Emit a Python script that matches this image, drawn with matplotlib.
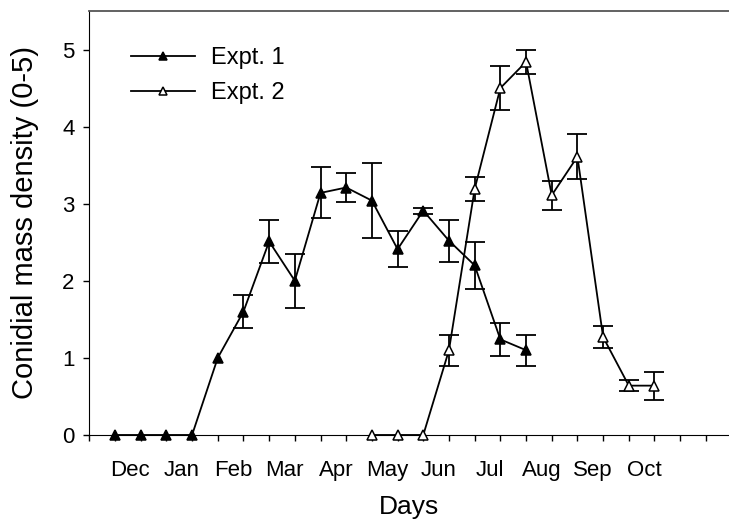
import numpy as np
import matplotlib.pyplot as plt

plt.rcParams['font.family'] = ['Liberation Sans', 'DejaVu Sans']

months = ["Dec", "Jan", "Feb", "Mar", "Apr", "May", "Jun", "Jul", "Aug", "Sep", "Oct"]

# sampling positions (half-month steps) and mean scores
x1 = np.arange(1, 18)
y1 = [0, 0, 0, 0, 1.0, 1.6, 2.51, 2.0, 3.14, 3.21, 3.04, 2.41, 2.91, 2.52, 2.2, 1.24, 1.1]
e1 = [0, 0, 0, 0, 0, 0.21, 0.28, 0.35, 0.33, 0.19, 0.49, 0.23, 0.04, 0.27, 0.3, 0.21, 0.2]

x2 = np.arange(11, 23)
y2 = [0, 0, 0, 1.1, 3.19, 4.5, 4.84, 3.11, 3.61, 1.27, 0.64, 0.64]
e2 = [0, 0, 0, 0.2, 0.15, 0.28, 0.16, 0.19, 0.29, 0.14, 0.07, 0.18]

fig = plt.figure(figsize=(7.29, 5.2), dpi=100)
ax = fig.add_axes([0.1225, 0.1635, 0.8775, 0.8154])

for x, y, e, face, lab in [(x1, y1, e1, "black", "Expt. 1"),
                           (x2, y2, e2, "white", "Expt. 2")]:
    x = np.asarray(x); y = np.asarray(y); e = np.asarray(e)
    has_err = e > 0
    ax.errorbar(x[has_err], y[has_err], yerr=e[has_err], fmt="none",
                ecolor="black", elinewidth=1.3, capsize=7, capthick=1.3)
    ax.plot(x, y, color="black", lw=1.3, marker="^", ms=7.5, mfc=face,
            mec="black", mew=1.1, label=lab, clip_on=False, zorder=3)

ax.set_xlim(0, 24.9)
ax.set_ylim(0, 5.5)

ax.set_xticks(np.arange(0, 25))
ax.set_xticklabels([])
ax.set_xticks(1.6 + 2 * np.arange(len(months)), minor=True)
ax.set_xticklabels(months, minor=True, fontsize=16)
ax.tick_params(axis="x", which="major", direction="out", length=4.5, width=1)
ax.tick_params(axis="x", which="minor", length=0, pad=18)

ax.set_yticks(range(0, 6))
ax.tick_params(axis="y", direction="out", length=4.5, width=1, labelsize=16, pad=6)

ax.set_xlabel("Days", fontsize=19, labelpad=10)
ax.set_ylabel("Conidial mass density (0-5)", fontsize=21, labelpad=17)

ax.spines["right"].set_visible(False)
ax.spines["top"].set_color("#555555")
ax.spines["top"].set_linewidth(1.3)

ax.legend(loc="upper left", bbox_to_anchor=(0.065, 0.915), frameon=False,
          fontsize=17, handlelength=2.7, handletextpad=0.7, labelspacing=0.55,
          markerscale=0.85, borderaxespad=0, borderpad=0)

plt.savefig("out.png", dpi=100)
